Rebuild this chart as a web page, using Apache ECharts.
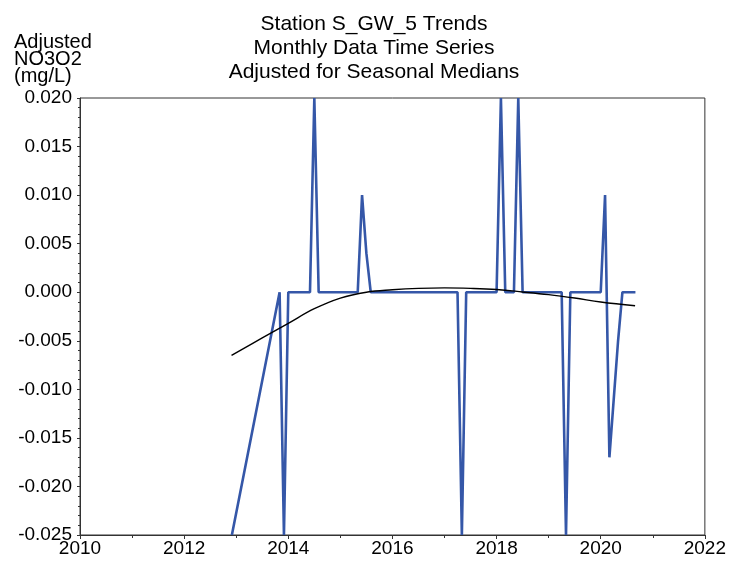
<!DOCTYPE html>
<html>
<head>
<meta charset="utf-8">
<script src="https://cdn.jsdelivr.net/npm/echarts@6/dist/echarts.min.js"></script>
<style>html,body{margin:0;padding:0;background:#fff}#c{width:729px;height:562px}</style>
</head>
<body>
<div id="c"></div>
<script>
// Monthly adjusted series (YYYY-MM, value mg/L)
const months = [
  '2012-12','2013-11','2013-12',
  '2014-01','2014-02','2014-03','2014-04','2014-05','2014-06','2014-07','2014-08','2014-09','2014-10','2014-11','2014-12',
  '2015-01','2015-02','2015-03','2015-04','2015-05','2015-06','2015-07','2015-08','2015-09','2015-10','2015-11','2015-12',
  '2016-01','2016-02','2016-03','2016-04','2016-05','2016-06','2016-07','2016-08','2016-09','2016-10','2016-11','2016-12',
  '2017-01','2017-02','2017-03','2017-04','2017-05','2017-06','2017-07','2017-08','2017-09','2017-10','2017-11','2017-12',
  '2018-01','2018-02','2018-03','2018-04','2018-05','2018-06','2018-07','2018-08','2018-09','2018-10','2018-11','2018-12',
  '2019-01','2019-02','2019-03','2019-04','2019-05','2019-06','2019-07','2019-08','2019-09','2019-10','2019-11','2019-12',
  '2020-01','2020-02','2020-03','2020-04','2020-05','2020-06','2020-07','2020-08','2020-09'
];
const values = [
  -0.025, 0, -0.025,
  0, 0, 0, 0, 0, 0, 0.020, 0, 0, 0, 0, 0,
  0, 0, 0, 0, 0, 0.010, 0.004, 0, 0, 0, 0, 0,
  0, 0, 0, 0, 0, 0, 0, 0, 0, 0, 0, 0,
  0, 0, 0, 0, -0.025, 0, 0, 0, 0, 0, 0, 0,
  0, 0.020, 0, 0, 0, 0.020, 0, 0, 0, 0, 0, 0,
  0, 0, 0, 0, -0.025, 0, 0, 0, 0, 0, 0, 0,
  0, 0.010, -0.017, -0.011, -0.005, 0, 0, 0, 0
];
// Smoothed trend curve (decimal year, value)
const trendYears = [2012.91, 2013.5, 2014.0, 2014.5, 2015.0, 2015.5, 2016.0, 2016.5, 2017.0, 2017.5, 2018.0, 2018.5, 2019.0, 2019.5, 2020.0, 2020.66];
const trendValues = [-0.0065, -0.0047, -0.0032, -0.0017, -0.0006, 0.0000, 0.00025, 0.0004, 0.00045, 0.0004, 0.00028, 0.00003, -0.00025, -0.0006, -0.001, -0.0014];
const xTicks = [2010, 2012, 2014, 2016, 2018, 2020, 2022];
const yTicks = ['0.020','0.015','0.010','0.005','0.000','-0.005','-0.010','-0.015','-0.020','-0.025'];

function toYear(m){ const p = m.split('-'); return +p[0] + (+p[1]-1)/12; }
const seriesData = months.map((m,i)=>[toYear(m), values[i]]);
const trendData = trendYears.map((y,i)=>[y, trendValues[i]]);

const FONT = '"Liberation Sans", Arial, sans-serif';
const chart = echarts.init(document.getElementById('c'), null, {renderer:'canvas'});
chart.setOption({
  animation:false,
  backgroundColor:'#fff',
  title:[
    {text:'Station S_GW_5 Trends\nMonthly Data Time Series\nAdjusted for Seasonal Medians',
     left:369, top:7, textAlign:'center',
     textStyle:{fontFamily:FONT, fontSize:21, fontWeight:'normal', color:'#000', lineHeight:24}},
    {text:'Adjusted\nNO3O2\n(mg/L)', left:9, top:29,
     textStyle:{fontFamily:FONT, fontSize:20, fontWeight:'normal', color:'#000', lineHeight:17}}
  ],
  grid:{left:80, right:23, top:98, bottom:27, show:true, borderColor:'#333', borderWidth:1},
  xAxis:{
    type:'value', min:2010, max:2022, interval:2,
    axisLine:{show:true, onZero:false, lineStyle:{color:'#333', width:1}},
    axisTick:{show:true, length:4, lineStyle:{color:'#333'}},
    minorTick:{show:true, splitNumber:2, length:3, lineStyle:{color:'#333'}},
    splitLine:{show:false},
    axisLabel:{fontFamily:FONT, fontSize:19, color:'#000', margin:4,
      formatter:v=> xTicks.indexOf(v)>=0 ? String(v) : ''}
  },
  yAxis:{
    type:'value', min:-0.025, max:0.020, interval:0.005,
    axisLine:{show:true, lineStyle:{color:'#333', width:1}},
    axisTick:{show:true, length:3, lineStyle:{color:'#333'}},
    minorTick:{show:true, splitNumber:5, length:2, lineStyle:{color:'#333'}},
    splitLine:{show:false},
    axisLabel:{fontFamily:FONT, fontSize:19, color:'#000', margin:8,
      formatter:v=>{ const s = v.toFixed(3); const t = (s==='-0.000')?'0.000':s; return yTicks.indexOf(t)>=0 ? t : ''; }}
  },
  series:[
    {type:'line', data:seriesData, symbol:'none', clip:true,
     lineStyle:{color:'#3557a8', width:2.6}, z:2},
    {type:'line', data:trendData, symbol:'none', smooth:0.4, clip:true,
     lineStyle:{color:'#000', width:1.4}, z:3}
  ]
});
</script>
</body>
</html>
